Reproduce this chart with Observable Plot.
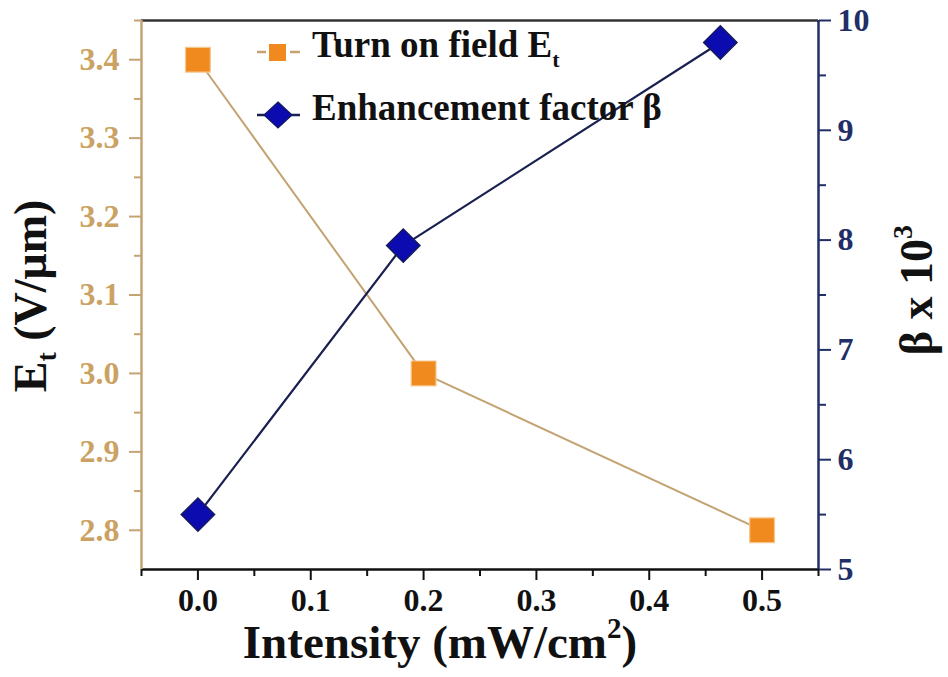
<!DOCTYPE html>
<html>
<head>
<meta charset="utf-8">
<script src="https://cdn.jsdelivr.net/npm/d3@7"></script>
<script src="https://cdn.jsdelivr.net/npm/@observablehq/plot@0.6"></script>
<style>
  html, body { margin: 0; padding: 0; background: #fff; }
  #chart { width: 948px; height: 677px; }
  #chart svg text { font-family: "Liberation Serif", "Times New Roman", serif !important; }
</style>
</head>
<body>
<div id="chart"></div>
<script>
// ---- data ----
const intensityEt = [0, 0.2, 0.5];
const turnOnField = [3.4, 3.0, 2.8];
const intensityBeta = [0, 0.182, 0.463];
const betaValues = [5.5, 7.95, 9.8];
const xTicks = [0, 0.1, 0.2, 0.3, 0.4, 0.5];
const xMinorTicks = [-0.05, 0.05, 0.15, 0.25, 0.35, 0.45, 0.55];
const etTicks = [2.8, 2.9, 3.0, 3.1, 3.2, 3.3, 3.4];
const etMinorTicks = [2.85, 2.95, 3.05, 3.15, 3.25, 3.35, 3.45];
const betaTicks = [5, 6, 7, 8, 9, 10];
const betaMinorTicks = [5.5, 6.5, 7.5, 8.5, 9.5];
const xDomain = [-0.05, 0.55];
const etDomain = [2.75, 3.45];
const betaDomain = [5, 10];

// ---- colours ----
const tan = "#c4a373";
const tanLabel = "#cba263";
const orange = "#f08a1e";
const navy = "#222e66";
const blue = "#0b0bb0";

// map beta values onto the left scale
const toY = b => etDomain[0] + (b - betaDomain[0]) / (betaDomain[1] - betaDomain[0]) * (etDomain[1] - etDomain[0]);
const toBeta = y => betaDomain[0] + (y - etDomain[0]) / (etDomain[1] - etDomain[0]) * (betaDomain[1] - betaDomain[0]);

const etData = intensityEt.map((x, i) => ({x, y: turnOnField[i]}));
const betaData = intensityBeta.map((x, i) => ({x, y: toY(betaValues[i])}));

const plot = Plot.plot({
  width: 948,
  height: 677,
  marginLeft: 141,
  marginRight: 130,
  marginTop: 20,
  marginBottom: 108,
  x: {domain: xDomain},
  y: {domain: etDomain},
  style: {
    fontFamily: "Liberation Serif, Times New Roman, serif",
    fontWeight: "bold",
    fontSize: "32px",
    background: "#fff",
    overflow: "visible"
  },
  marks: [
    // axes (major + minor ticks)
    Plot.axisX({ticks: xTicks, tickSize: 11, tickPadding: 8, tickFormat: d3.format(".1f"), label: null, color: "#111", strokeWidth: 2}),
    Plot.axisX({ticks: xMinorTicks, tickSize: 7, label: null, stroke: "#111", fill: "none", strokeWidth: 2}),
    Plot.axisY({ticks: etTicks, tickSize: 12, tickPadding: 10, tickFormat: d3.format(".1f"), label: null, fill: tanLabel, stroke: tan, strokeWidth: 2}),
    Plot.axisY({ticks: etMinorTicks, tickSize: 7, label: null, stroke: tan, fill: "none", strokeWidth: 2}),
    Plot.axisY({anchor: "right", ticks: betaTicks.map(toY), tickSize: 12, tickPadding: 7,
      tickFormat: d => String(Math.round(toBeta(d))), label: null, color: navy, strokeWidth: 2}),
    Plot.axisY({anchor: "right", ticks: betaMinorTicks.map(toY), tickSize: 7, label: null, stroke: navy, fill: "none", strokeWidth: 2}),
    // frame lines
    Plot.ruleY([etDomain[1]], {stroke: "#333", strokeWidth: 2.5}),
    Plot.ruleY([etDomain[0]], {stroke: "#111", strokeWidth: 2.5}),
    Plot.ruleX([xDomain[0]], {stroke: tan, strokeWidth: 2.5}),
    Plot.ruleX([xDomain[1]], {stroke: navy, strokeWidth: 2.5}),
    // series
    Plot.line(etData, {x: "x", y: "y", stroke: tan, strokeWidth: 2}),
    Plot.line(betaData, {x: "x", y: "y", stroke: "#1a2050", strokeWidth: 2.2}),
    Plot.dot(etData, {x: "x", y: "y", symbol: "square", r: 14, fill: orange, stroke: "#f6c88e", strokeWidth: 1.2}),
    Plot.dot(betaData, {x: "x", y: "y", symbol: "diamond2", r: 15, fill: blue, stroke: "#141a5c", strokeWidth: 1.5})
  ]
});

document.getElementById("chart").appendChild(plot);

// ---- titles and legend drawn as real SVG text ----
const svg = d3.select(plot);
const font = "Liberation Serif, Times New Roman, serif";

// x title
const xt = svg.append("text")
  .attr("x", 440).attr("y", 658)
  .attr("text-anchor", "middle")
  .attr("font-family", font).attr("font-weight", "bold").attr("font-size", 47).attr("fill", "#111");
xt.append("tspan").text("Intensity (mW/cm");
xt.append("tspan").attr("font-size", 29).attr("dy", -20).text("2");
xt.append("tspan").attr("dy", 20).text(")");

// left title
const lt = svg.append("text")
  .attr("transform", "translate(46,296) rotate(-90)")
  .attr("text-anchor", "middle")
  .attr("font-family", font).attr("font-weight", "bold").attr("font-size", 46).attr("fill", "#111");
lt.append("tspan").text("E");
lt.append("tspan").attr("font-size", 28).attr("dy", 10).text("t");
lt.append("tspan").attr("dy", -10).text(" (V/\u03bcm)");

// right title
const rt = svg.append("text")
  .attr("transform", "translate(932,290) rotate(-90)")
  .attr("text-anchor", "middle")
  .attr("font-family", font).attr("font-weight", "bold").attr("font-size", 46).attr("fill", "#111");
rt.append("tspan").text("\u03b2 x 10");
rt.append("tspan").attr("font-size", 28).attr("dy", -20).text("3");

// legend
const lg = svg.append("g");
lg.append("line").attr("x1", 257).attr("x2", 266).attr("y1", 52).attr("y2", 52).attr("stroke", tan).attr("stroke-width", 2.5);
lg.append("line").attr("x1", 290).attr("x2", 300).attr("y1", 52).attr("y2", 52).attr("stroke", tan).attr("stroke-width", 2.5);
lg.append("rect").attr("x", 269).attr("y", 44).attr("width", 17).attr("height", 17).attr("fill", orange);
const t1 = lg.append("text").attr("x", 312).attr("y", 57).attr("text-anchor", "start")
  .attr("font-family", font).attr("font-weight", "bold").attr("font-size", 37).attr("fill", "#111");
t1.append("tspan").text("Turn on field E");
t1.append("tspan").attr("font-size", 22).attr("dy", 10).text("t");

lg.append("line").attr("x1", 257).attr("x2", 300).attr("y1", 115).attr("y2", 115).attr("stroke", "#1a2050").attr("stroke-width", 2.5);
lg.append("path").attr("d", "M278,102L292,115L278,128L264,115Z").attr("fill", blue).attr("stroke", "#141a5c").attr("stroke-width", 1.2);
lg.append("text").attr("x", 312).attr("y", 120).attr("text-anchor", "start")
  .attr("font-family", font).attr("font-weight", "bold").attr("font-size", 37).attr("fill", "#111")
  .text("Enhancement factor \u03b2");
</script>
</body>
</html>
